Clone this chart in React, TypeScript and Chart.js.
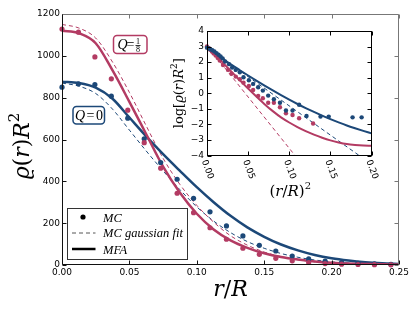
import React, { useEffect, useRef } from "react";
import { Chart, registerables } from "chart.js";
Chart.register(...registerables);

const PINK = "#b33b63";
const BLUE = "#1c4878";

// ---------- main plot data ----------
const mainXTicks = [0, 0.05, 0.1, 0.15, 0.2, 0.25];
const mainYTicks = [0, 200, 400, 600, 800, 1000, 1200];

const mcR = [0, 0.0122, 0.0244, 0.0366, 0.0488, 0.061, 0.0732, 0.0854, 0.0976, 0.1098, 0.122, 0.1342, 0.1464, 0.1586, 0.1708, 0.183, 0.1952, 0.2074, 0.2196, 0.2318, 0.244];
const mcPink = [1128, 1113, 995, 890, 740, 585, 463, 343, 250, 178, 123, 80, 51, 32, 20, 12, 7, 4, 2.5, 1.5, 1];
const mcBlue = [850, 866, 863, 807, 702, 603, 490, 410, 319, 254, 187, 139, 94, 67, 43, 29, 19, 12, 8, 5, 3];

const curveR = [0, 0.0125, 0.025, 0.0375, 0.05, 0.0625, 0.075, 0.0875, 0.1, 0.1125, 0.125, 0.1375, 0.15, 0.1625, 0.175, 0.1875, 0.2, 0.2125, 0.225, 0.2375, 0.25];
const mfaPink = [1120, 1108, 1060, 930, 780, 625, 470, 345, 245, 170, 118, 82, 56, 38, 26, 17, 11, 7, 5, 3, 2];
const fitPink = [1150, 1133, 1085, 970, 825, 665, 510, 385, 285, 205, 140, 95, 62, 40, 25, 15, 9, 5, 3, 2, 1];
const mfaBlue = [876, 870, 848, 795, 705, 615, 530, 450, 372, 300, 235, 180, 135, 98, 70, 48, 32, 21, 13, 8, 5];
const fitBlue = [870, 855, 820, 745, 645, 545, 450, 360, 278, 210, 155, 112, 80, 55, 37, 24, 15, 9, 5, 3, 2];

// ---------- inset data ----------
const insetXTicks = [0, 0.05, 0.1, 0.15, 0.2];
const insetYTicks = [-4, -3, -2, -1, 0, 1, 2, 3, 4];

const insetBlueX = [0, 0.002, 0.004, 0.0065, 0.009, 0.0115, 0.014, 0.0165, 0.019, 0.022, 0.0268, 0.0305, 0.035, 0.0399, 0.0444, 0.0509, 0.0561, 0.0622, 0.0679, 0.0744, 0.0813, 0.0887, 0.096, 0.104, 0.112, 0.121, 0.138, 0.148, 0.177, 0.188];
const insetBlueLog = [2.93, 2.89, 2.83, 2.76, 2.68, 2.58, 2.47, 2.36, 2.24, 2.04, 1.87, 1.65, 1.5, 1.35, 1.03, 0.84, 0.6, 0.39, 0.17, -0.15, -0.39, -0.61, -1.11, -1.11, -0.74, -1.46, -1.5, -1.5, -1.55, -1.55];
const insetPinkX = [0, 0.002, 0.004, 0.006, 0.008, 0.0105, 0.013, 0.0155, 0.0195, 0.0256, 0.0298, 0.035, 0.0399, 0.0444, 0.0509, 0.0561, 0.0622, 0.0679, 0.0744, 0.0813, 0.0887, 0.096, 0.104, 0.112, 0.129];
const insetPinkLog = [3.0, 2.9, 2.79, 2.68, 2.56, 2.42, 2.27, 2.1, 1.82, 1.5, 1.25, 1.07, 0.9, 0.68, 0.47, 0.21, -0.17, -0.32, -0.61, -0.61, -0.9, -1.29, -1.4, -1.61, -1.94];

const insetCurveX = [0, 0.01, 0.02, 0.03, 0.04, 0.05, 0.06, 0.07, 0.08, 0.09, 0.1, 0.11, 0.12, 0.13, 0.14, 0.15, 0.16, 0.17, 0.18, 0.19, 0.2];
const insetMfaPink = [3.05, 2.48, 1.92, 1.37, 0.83, 0.3, -0.21, -0.7, -1.15, -1.55, -1.88, -2.17, -2.43, -2.66, -2.86, -3.03, -3.16, -3.26, -3.32, -3.36, -3.38];
const insetMfaBlue = [2.94, 2.56, 2.18, 1.82, 1.48, 1.14, 0.81, 0.49, 0.18, -0.12, -0.41, -0.69, -0.95, -1.2, -1.44, -1.66, -1.87, -2.07, -2.25, -2.42, -2.58];
const insetFitPinkX = [0, 0.107];
const insetFitPinkLog = [3.06, -4];
const insetFitBlueX = [0, 0.185];
const insetFitBlueLog = [2.94, -4];

// ---------- helpers ----------
function xy(xs: number[], ys: number[]) {
  return xs.map((x, i) => ({ x, y: ys[i] }));
}

type Seg = { t: string; f: string; dy?: number; gap?: number };

function drawRich(ctx: CanvasRenderingContext2D, segs: Seg[], cx: number, cy: number, rot = 0) {
  ctx.save();
  ctx.translate(cx, cy);
  ctx.rotate(rot);
  ctx.textAlign = "left";
  ctx.textBaseline = "alphabetic";
  const ws = segs.map((s) => {
    ctx.font = s.f;
    return ctx.measureText(s.t).width + (s.gap || 0);
  });
  const total = ws.reduce((a, b) => a + b, 0);
  let x = -total / 2;
  segs.forEach((s, i) => {
    ctx.font = s.f;
    ctx.fillText(s.t, x, s.dy || 0);
    x += ws[i];
  });
  ctx.restore();
}

const serif = (size: number, italic = false) => `${italic ? "italic " : ""}${size}px "DejaVu Serif"`;
const lib = (size: number, italic = false) => `${italic ? "italic " : ""}${size}px "Liberation Serif"`;

function line(ctx: CanvasRenderingContext2D, x1: number, y1: number, x2: number, y2: number) {
  ctx.beginPath();
  ctx.moveTo(x1, y1);
  ctx.lineTo(x2, y2);
  ctx.stroke();
}

const mainDecor = {
  id: "mainDecor",
  afterDraw(chart: any) {
    const ctx: CanvasRenderingContext2D = chart.ctx;
    const a = chart.chartArea;
    const xs = chart.scales.x;
    const ys = chart.scales.y;
    const L = Math.round(a.left) + 0.5;
    const R = Math.round(a.right) - 0.5;
    const T = Math.round(a.top) + 0.5;
    const B = Math.round(a.bottom) - 0.5;
    ctx.save();
    ctx.lineWidth = 1;
    // inward ticks
    ctx.strokeStyle = "#111";
    mainXTicks.forEach((v) => {
      const px = Math.round(xs.getPixelForValue(v)) + 0.5;
      line(ctx, px, B, px, B - 4);
      ctx.strokeStyle = "#777";
      line(ctx, px, T, px, T + 4);
      ctx.strokeStyle = "#111";
    });
    mainYTicks.forEach((v) => {
      const py = Math.round(ys.getPixelForValue(v)) + 0.5;
      line(ctx, L, py, L + 4, py);
      ctx.strokeStyle = "#777";
      line(ctx, R, py, R - 4, py);
      ctx.strokeStyle = "#111";
    });
    // frame
    ctx.strokeStyle = "#777";
    line(ctx, L, T, R, T);
    line(ctx, R, T, R, B);
    ctx.strokeStyle = "#111";
    line(ctx, L, T, L, B);
    line(ctx, L, B, R, B);

    // axis titles
    ctx.fillStyle = "#000";
    drawRich(
      ctx,
      [
        { t: "r", f: serif(22, true) },
        { t: "/", f: serif(22) },
        { t: "R", f: serif(22, true) },
      ],
      (a.left + a.right) / 2,
      a.bottom + 31
    );
    drawRich(
      ctx,
      [
        { t: "ϱ", f: serif(22, true) },
        { t: "(", f: serif(22) },
        { t: "r", f: serif(22, true) },
        { t: ")", f: serif(22) },
        { t: "R", f: serif(22, true) },
        { t: "2", f: serif(15), dy: -10 },
      ],
      28.5,
      146,
      -Math.PI / 2
    );

    // Q = 1/8 box
    const q1x = a.left + 51.5;
    const q1y = a.top + 21.5;
    ctx.fillStyle = "#fff";
    ctx.strokeStyle = PINK;
    ctx.lineWidth = 1.5;
    ctx.beginPath();
    (ctx as any).roundRect(q1x, q1y, 33.5, 18, 3.5);
    ctx.fill();
    ctx.stroke();
    ctx.fillStyle = "#000";
    ctx.textAlign = "left";
    ctx.textBaseline = "alphabetic";
    ctx.font = lib(14, true);
    ctx.fillText("Q", q1x + 4, q1y + 13.5);
    ctx.font = lib(14);
    ctx.fillText("=", q1x + 13, q1y + 13);
    ctx.font = lib(8);
    ctx.textAlign = "center";
    ctx.fillText("1", q1x + 24.5, q1y + 8.5);
    ctx.fillText("8", q1x + 24.5, q1y + 16.5);
    ctx.lineWidth = 0.8;
    ctx.strokeStyle = "#000";
    line(ctx, q1x + 22, q1y + 10, q1x + 27, q1y + 10);

    // Q = 0 box
    const q0x = a.left + 11;
    const q0y = a.top + 92.5;
    ctx.fillStyle = "#fff";
    ctx.strokeStyle = BLUE;
    ctx.lineWidth = 1.5;
    ctx.beginPath();
    (ctx as any).roundRect(q0x, q0y, 31.5, 17.5, 3.5);
    ctx.fill();
    ctx.stroke();
    ctx.fillStyle = "#000";
    drawRich(
      ctx,
      [
        { t: "Q", f: lib(14, true), gap: 1.5 },
        { t: "=", f: lib(14), gap: 1.5 },
        { t: "0", f: lib(14) },
      ],
      q0x + 16,
      q0y + 13
    );

    // legend
    const lx = a.left + 5.5;
    const ly = a.bottom - 56.5;
    ctx.fillStyle = "#fff";
    ctx.strokeStyle = "#333";
    ctx.lineWidth = 1;
    ctx.fillRect(lx, ly, 120, 51);
    ctx.strokeRect(lx, ly, 120, 51);
    ctx.fillStyle = "#000";
    ctx.beginPath();
    ctx.arc(lx + 15.5, ly + 8.5, 2.6, 0, Math.PI * 2);
    ctx.fill();
    ctx.strokeStyle = "#555";
    ctx.setLineDash([4, 3]);
    line(ctx, lx + 4.5, ly + 24.5, lx + 28, ly + 24.5);
    ctx.setLineDash([]);
    ctx.strokeStyle = "#000";
    ctx.lineWidth = 2.5;
    line(ctx, lx + 4.5, ly + 40.5, lx + 28, ly + 40.5);
    ctx.font = lib(12.5, true);
    ctx.textAlign = "left";
    ctx.fillText("MC", lx + 35.5, ly + 13);
    ctx.fillText("MC gaussian fit", lx + 35.5, ly + 28.5);
    ctx.fillText("MFA", lx + 35.5, ly + 45);
    ctx.restore();
  },
};

const insetDecor = {
  id: "insetDecor",
  afterDraw(chart: any) {
    const ctx: CanvasRenderingContext2D = chart.ctx;
    const a = chart.chartArea;
    const xs = chart.scales.x;
    const ys = chart.scales.y;
    const L = Math.round(a.left) + 0.5;
    const R = Math.round(a.right) - 0.5;
    const T = Math.round(a.top) + 0.5;
    const B = Math.round(a.bottom) - 0.5;
    ctx.save();
    ctx.strokeStyle = "#000";
    ctx.lineWidth = 1;
    insetXTicks.forEach((v) => {
      const px = Math.round(xs.getPixelForValue(v)) + 0.5;
      line(ctx, px, B, px, B - 4);
      line(ctx, px, T, px, T + 4);
    });
    insetYTicks.forEach((v) => {
      const py = Math.round(ys.getPixelForValue(v)) + 0.5;
      line(ctx, L, py, L + 4, py);
      line(ctx, R, py, R - 4, py);
    });
    ctx.strokeRect(L, T, R - L, B - T);

    // rotated x tick labels
    ctx.fillStyle = "#000";
    ctx.font = '9px "DejaVu Sans"';
    ctx.textAlign = "center";
    ctx.textBaseline = "middle";
    insetXTicks.forEach((v) => {
      const px = xs.getPixelForValue(v);
      ctx.save();
      ctx.translate(px + 0.5, a.bottom + 14);
      ctx.rotate((70 * Math.PI) / 180);
      ctx.fillText(v.toFixed(2), 0, 0);
      ctx.restore();
    });

    // titles
    drawRich(
      ctx,
      [
        { t: "(", f: serif(15) },
        { t: "r", f: serif(15, true) },
        { t: "/", f: serif(15) },
        { t: "R", f: serif(15, true) },
        { t: ")", f: serif(15) },
        { t: "2", f: serif(10), dy: -7 },
      ],
      (a.left + a.right) / 2 + 1,
      a.bottom + 40
    );
    drawRich(
      ctx,
      [
        { t: "log", f: serif(13) },
        { t: "[", f: serif(13) },
        { t: "ϱ", f: serif(13, true) },
        { t: "(", f: serif(13) },
        { t: "r", f: serif(13, true) },
        { t: ")", f: serif(13) },
        { t: "R", f: serif(13, true) },
        { t: "2", f: serif(9), dy: -6 },
        { t: "]", f: serif(13) },
      ],
      183,
      (a.top + a.bottom) / 2,
      -Math.PI / 2
    );
    ctx.restore();
  },
};

const tickFont = { family: "DejaVu Sans", size: 9 };

function pointSet(data: any[], color: string, r = 2.6) {
  return {
    data,
    showLine: false,
    pointRadius: r,
    pointHoverRadius: r,
    pointBackgroundColor: color,
    pointBorderColor: color,
    pointBorderWidth: 0,
    clip: false,
  };
}

function lineSet(data: any[], color: string, width: number, dash: number[] = []) {
  return {
    data,
    borderColor: color,
    borderWidth: width,
    borderDash: dash,
    pointRadius: 0,
    fill: false,
    cubicInterpolationMode: "monotone",
  };
}

export default function App() {
  const mainRef = useRef<HTMLCanvasElement | null>(null);
  const insetRef = useRef<HTMLCanvasElement | null>(null);

  useEffect(() => {
    const main = new Chart(mainRef.current as HTMLCanvasElement, {
      type: "line",
      data: {
        datasets: [
          pointSet(xy(mcR, mcPink), PINK),
          pointSet(xy(mcR, mcBlue), BLUE),
          lineSet(xy(curveR, mfaPink), PINK, 2.5),
          lineSet(xy(curveR, mfaBlue), BLUE, 2.5),
          lineSet(xy(curveR, fitPink), PINK, 1, [4, 3]),
          lineSet(xy(curveR, fitBlue), BLUE, 1, [4, 3]),
        ] as any,
      },
      options: {
        responsive: false,
        animation: false,
        devicePixelRatio: 1,
        layout: { padding: { top: 14, right: 16, left: 0, bottom: 0 } },
        plugins: { legend: { display: false }, tooltip: { enabled: false } },
        scales: {
          x: {
            type: "linear",
            min: 0,
            max: 0.25,
            afterFit: (s: any) => {
              s.height = 47;
            },
            afterBuildTicks: (s: any) => {
              s.ticks = mainXTicks.map((v) => ({ value: v }));
            },
            ticks: {
              callback: (v: any) => Number(v).toFixed(2),
              font: tickFont,
              color: "#000",
              padding: 2,
              maxRotation: 0,
              autoSkip: false,
            },
            grid: { display: false, drawTicks: false },
            border: { display: false },
          },
          y: {
            type: "linear",
            min: 0,
            max: 1200,
            afterFit: (s: any) => {
              s.width = 62;
            },
            afterBuildTicks: (s: any) => {
              s.ticks = mainYTicks.map((v) => ({ value: v }));
            },
            ticks: {
              callback: (v: any) => String(v),
              font: tickFont,
              color: "#000",
              padding: 2,
              autoSkip: false,
            },
            grid: { display: false, drawTicks: false },
            border: { display: false },
          },
        },
      } as any,
      plugins: [mainDecor],
    });

    const inset = new Chart(insetRef.current as HTMLCanvasElement, {
      type: "line",
      data: {
        datasets: [
          pointSet(xy(insetBlueX, insetBlueLog), BLUE, 2.2),
          pointSet(xy(insetPinkX, insetPinkLog), PINK, 2.2),
          lineSet(xy(insetCurveX, insetMfaBlue), BLUE, 2),
          lineSet(xy(insetCurveX, insetMfaPink), PINK, 2),
          lineSet(xy(insetFitBlueX, insetFitBlueLog), BLUE, 1, [4, 3]),
          lineSet(xy(insetFitPinkX, insetFitPinkLog), PINK, 1, [4, 3]),
        ] as any,
      },
      options: {
        responsive: false,
        animation: false,
        devicePixelRatio: 1,
        layout: { padding: { top: 31, right: 43.5, left: 0, bottom: 0 } },
        plugins: { legend: { display: false }, tooltip: { enabled: false } },
        scales: {
          x: {
            type: "linear",
            min: 0,
            max: 0.2,
            afterFit: (s: any) => {
              s.height = 156.5;
            },
            ticks: { display: false },
            grid: { display: false, drawTicks: false },
            border: { display: false },
          },
          y: {
            type: "linear",
            min: -4,
            max: 4,
            afterFit: (s: any) => {
              s.width = 207;
            },
            afterBuildTicks: (s: any) => {
              s.ticks = insetYTicks.map((v) => ({ value: v }));
            },
            ticks: {
              callback: (v: any) => (Number(v) < 0 ? "\u2212" + Math.abs(Number(v)) : String(v)),
              font: tickFont,
              color: "#000",
              padding: 3,
              autoSkip: false,
            },
            grid: { display: false, drawTicks: false },
            border: { display: false },
          },
        },
      } as any,
      plugins: [insetDecor],
    });

    return () => {
      main.destroy();
      inset.destroy();
    };
  }, []);

  return (
    <div style={{ position: "absolute", left: 0, top: 0, width: 415, height: 312, background: "#fff" }}>
      <canvas ref={mainRef} width={415} height={312} style={{ position: "absolute", left: 0, top: 0 }} />
      <canvas ref={insetRef} width={415} height={312} style={{ position: "absolute", left: 0, top: 0, pointerEvents: "none" }} />
    </div>
  );
}
